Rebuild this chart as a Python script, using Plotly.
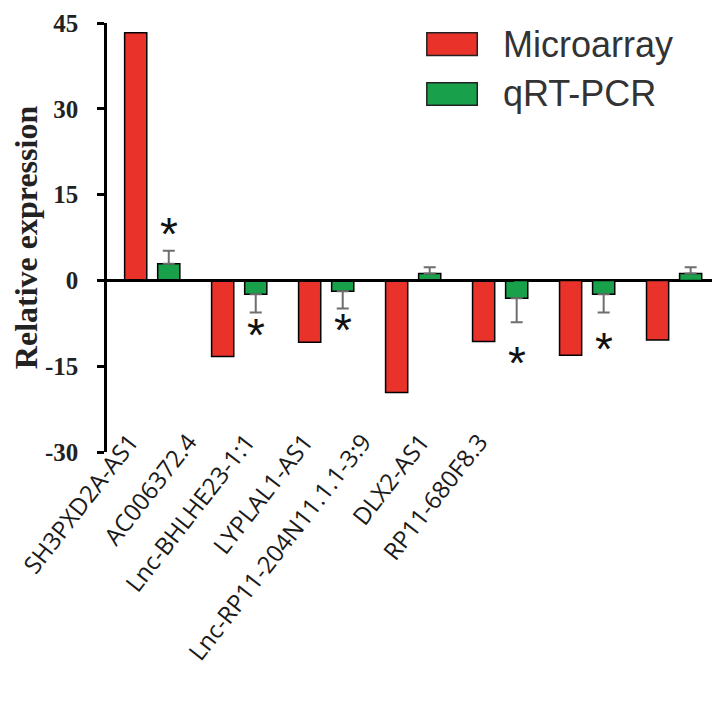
"""
    Microarray vs qRT-PCR relative expression bar chart
"""
import plotly.graph_objects as go

GENES = [
    "SH3PXD2A-AS1",
    "AC006372.4",
    "Lnc-BHLHE23-1:1",
    "LYPLAL1-AS1",
    "Lnc-RP11-204N11.1.1-3:9",
    "DLX2-AS1",
    "RP11-680F8.3",
]
MICROARRAY = [43.3, -13.3, -10.8, -19.6, -10.7, -13.1, -10.4]
QPCR = [2.9, -2.4, -1.9, 1.2, -3.1, -2.4, 1.2]
QPCR_ERR = [2.3, 3.2, 3.0, 1.1, 4.2, 3.2, 1.1]
STARRED = [True, True, True, False, True, True, False]
STAR_Y = [9.0, -8.7, -7.8, None, -13.5, -11.1, None]

Y_TICKS = [-30, -15, 0, 15, 30, 45]

RED = "#e8322a"
GREEN = "#18a04a"
BARGAP = 0.24

err_plus = [e if v > 0 else 0 for v, e in zip(QPCR, QPCR_ERR)]
err_minus = [e if v < 0 else 0 for v, e in zip(QPCR, QPCR_ERR)]

trace_1 = go.Bar(
    x=GENES,
    y=MICROARRAY,
    name="Microarray",
    marker=dict(color=RED, line=dict(color="black", width=1.5)),
    showlegend=False,
)
trace_2 = go.Bar(
    x=GENES,
    y=QPCR,
    name="qRT-PCR",
    marker=dict(color=GREEN, line=dict(color="black", width=1.5)),
    error_y=dict(
        type="data",
        symmetric=False,
        array=err_plus,
        arrayminus=err_minus,
        color="#6e6e6e",
        thickness=2,
        width=6,
    ),
    showlegend=False,
)
# invisible trace that carries the (compressed) gene labels axis
trace_3 = go.Scatter(
    x=GENES,
    y=[None] * len(GENES),
    xaxis="x2",
    yaxis="y",
    mode="markers",
    showlegend=False,
    hoverinfo="skip",
)

fig = go.Figure(data=[trace_1, trace_2, trace_3])

# significance stars over the qRT-PCR bars
green_offset = (1 - BARGAP) / 4
for i, (flag, sy) in enumerate(zip(STARRED, STAR_Y)):
    if not flag:
        continue
    fig.add_annotation(
        x=i + green_offset,
        y=sy,
        xref="x",
        yref="y",
        text="*",
        showarrow=False,
        yshift=-5,
        font=dict(family="Liberation Sans", size=46, color="#111111"),
    )

# legend drawn as boxes + labels to match the large swatches
LEGEND = [("Microarray", RED, 0.977), ("qRT-PCR", GREEN, 0.861)]
for label, color, top in LEGEND:
    fig.add_shape(
        type="rect",
        xref="paper",
        yref="paper",
        x0=0.526,
        x1=0.609,
        y0=top - 0.053,
        y1=top,
        fillcolor=color,
        line=dict(color="#222222", width=1.5),
    )
    fig.add_annotation(
        x=0.648,
        y=top - 0.026,
        xref="paper",
        yref="paper",
        text=label,
        showarrow=False,
        xanchor="left",
        yanchor="middle",
        font=dict(family="Liberation Sans", size=36, color="#333333"),
    )

# page body adds 8px, so the figure is 8px smaller than the window
fig.update_layout(
    width=712,
    height=710,
    margin=dict(l=99, r=5, t=15, b=266),
    plot_bgcolor="rgba(0,0,0,0)",
    paper_bgcolor="white",
    barmode="group",
    bargap=BARGAP,
    bargroupgap=0.33,
    xaxis=dict(
        range=[-0.52, 6.47],
        showticklabels=False,
        ticks="",
        showline=False,
        showgrid=False,
        zeroline=False,
        automargin=False,
    ),
    xaxis2=dict(
        type="category",
        categoryorder="array",
        categoryarray=GENES,
        range=[-0.4, 6.6],
        domain=[0, 0.67],
        anchor="free",
        position=0.07,
        tickangle=-52,
        ticks="",
        showline=False,
        showgrid=False,
        zeroline=False,
        automargin=False,
        tickfont=dict(family="Open Sans", size=24, color="#1a1a1a"),
    ),
    yaxis=dict(
        range=[-30, 45],
        tickvals=Y_TICKS,
        ticktext=[str(v) for v in Y_TICKS],
        ticks="outside",
        ticklen=7,
        tickwidth=2.5,
        tickcolor="black",
        ticklabelstandoff=14,
        ticklabeloverflow="allow",
        showline=True,
        linecolor="black",
        linewidth=2.5,
        showgrid=False,
        zeroline=True,
        zerolinecolor="black",
        zerolinewidth=2.5,
        automargin=False,
        tickfont=dict(family="Liberation Serif", size=25, color="#222222", weight="bold"),
        title=dict(
            text="<b>Relative expression</b>",
            font=dict(family="Liberation Serif", size=32, color="#222222"),
            standoff=14,
        ),
    ),
)

fig.write_html("out.html")
